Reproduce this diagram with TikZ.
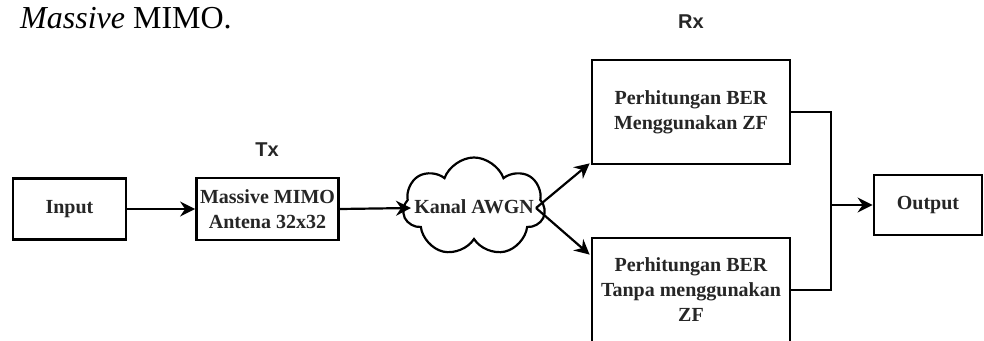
\documentclass[tikz,border=0pt]{standalone}
\usepackage{fontspec}
\setmainfont{Liberation Serif}
\newfontfamily\labelfont{Liberation Sans}
\usetikzlibrary{shapes.symbols,arrows.meta}

\begin{document}
\begin{tikzpicture}[x=1pt,y=-1pt,
  blockbox/.style={draw, line width=2.8pt, fill=white, align=center, inner sep=0pt,
    text=black!85, font=\bfseries\fontsize{20}{25}\selectfont},
  link/.style={line width=2.2pt, -{Stealth[length=15pt,width=15pt,inset=5pt]}},
  wire/.style={line width=2pt},
  sidelabel/.style={text=black!85, font=\labelfont\bfseries\fontsize{20}{22}\selectfont}]
\useasboundingbox (0,0) rectangle (984,340);

% caption line
\node[anchor=base west, inner sep=0pt, font=\fontsize{32}{38}\selectfont]
  (title) at (20,28) {\textit{Massive} MIMO.};

% section labels
\node[sidelabel] (tx) at (267,150) {Tx};
\node[sidelabel] (rx) at (691,22) {Rx};

% blocks
\node[blockbox, minimum width=113pt, minimum height=61pt] (input) at (69.5,209) {Input};
\node[blockbox, minimum width=142pt, minimum height=62pt] (mimo) at (267.5,209)
  {Massive MIMO\\Antena 32x32};
\node[draw, line width=2.2pt, fill=white, shape=cloud, cloud puffs=7, cloud puff arc=140,
  cloud ignores aspect, minimum width=142pt, minimum height=99pt, inner sep=0pt,
  text=black!85, font=\bfseries\fontsize{20}{25}\selectfont] (awgn) at (474,207)
  {\makebox[0pt]{Kanal AWGN}};
\node[blockbox, minimum width=198pt, minimum height=104pt] (zf) at (691,112)
  {Perhitungan BER\\Menggunakan ZF};
\node[blockbox, minimum width=198pt, minimum height=104pt] (nozf) at (691,290)
  {Perhitungan BER\\Tanpa menggunakan\\ZF};
\node[blockbox, minimum width=108pt, minimum height=60pt] (out) at (928,205) {Output};

% junction points
\coordinate (cloudin) at (411,208);
\coordinate (split) at (536,208);
\coordinate (bus) at (831,205);

% connectors
\draw[link] (input) -- (mimo);
\draw[link] (mimo.east) -- (cloudin);
\draw[link] (split) -- ([xshift=-1pt,yshift=2pt]zf.south west);
\draw[link] (split) -- ([xshift=-1pt,yshift=-18pt]nozf.north west);
\draw[wire] (zf.east) -| (bus) |- (nozf.east);
\draw[link] (bus) -- (out.west);
\end{tikzpicture}
\end{document}
